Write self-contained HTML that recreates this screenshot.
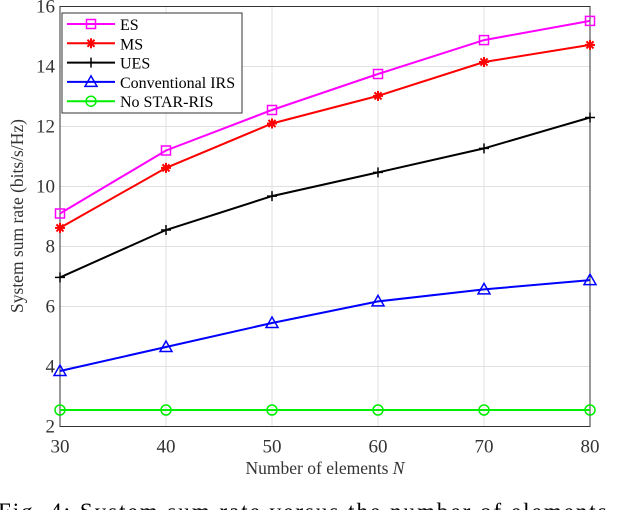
<!DOCTYPE html>
<html><head><meta charset="utf-8"><style>
body{margin:0;background:#fff;width:630px;height:510px;overflow:hidden}
svg{font-family:"Liberation Serif",serif}
</style></head><body>
<svg id="c" width="630" height="510"></svg>
<script>
const categories=[30,40,50,60,70,80];
const esVals=[9.1,11.2,12.55,13.75,14.88,15.52];
const msVals=[8.62,10.62,12.1,13.02,14.15,14.72];
const uesVals=[6.97,8.55,9.68,10.47,11.27,12.3];
const irsVals=[3.85,4.65,5.45,6.17,6.57,6.88];
const noVals=[2.55,2.55,2.55,2.55,2.55,2.55];
const yTicks=[2,4,6,8,10,12,14,16];
const seriesNames=["ES","MS","UES","Conventional IRS","No STAR-RIS"];
const svg=document.getElementById('c');const NS="http://www.w3.org/2000/svg";
const L=60,R=590,T=6.5,B=426.5;
const xs=v=>L+(v-30)/50*(R-L), ys=v=>B-(v-2)/14*(B-T);
function mk(t,a,p){const e=document.createElementNS(NS,t);for(const k in a)e.setAttribute(k,a[k]);(p||svg).appendChild(e);return e;}
categories.forEach(c=>{const g=mk('line',{x1:xs(c),x2:xs(c),y1:T,y2:B,stroke:'#e0e0e0','stroke-width':1});


const t=mk('text',{x:xs(c),y:B+26,'text-anchor':'middle','font-size':19,fill:'#333'});t.textContent=c;

});
yTicks.forEach(v=>{const g=mk('line',{x1:L,x2:R,y1:ys(v),y2:ys(v),stroke:'#e0e0e0','stroke-width':1});


const t=mk('text',{x:L-5,y:ys(v)+6,'text-anchor':'end','font-size':19,fill:'#333'});t.textContent=v;

});
const fr=mk('rect',{x:L,y:T,width:R-L,height:B-T,fill:'none',stroke:'#333','stroke-width':1});


function marker(type,x,y,col,g){
 if(type==='sq')mk('rect',{x:x-4.5,y:y-4.5,width:9,height:9,fill:'none',stroke:col,'stroke-width':1.5},g);
 else if(type==='star'){for(let a=0;a<4;a++){const an=a*Math.PI/4;mk('line',{x1:x-5*Math.cos(an),y1:y-5*Math.sin(an),x2:x+5*Math.cos(an),y2:y+5*Math.sin(an),stroke:col,'stroke-width':2},g);}}
 else if(type==='plus'){mk('line',{x1:x-5,x2:x+5,y1:y,y2:y,stroke:col,'stroke-width':1.5},g);mk('line',{x1:x,x2:x,y1:y-5,y2:y+5,stroke:col,'stroke-width':1.5},g);}
 else if(type==='tri')mk('polygon',{points:`${x},${y-6} ${x-6},${y+4.5} ${x+6},${y+4.5}`,fill:'none',stroke:col,'stroke-width':1.5},g);
 else mk('circle',{cx:x,cy:y,r:5,fill:'none',stroke:col,'stroke-width':1.5},g);
}
const series=[[esVals,'#ff00ff','sq','series-es'],[msVals,'#ff0000','star','series-ms'],[uesVals,'#000','plus','series-ues'],[irsVals,'#0000ff','tri','series-conventional-irs'],[noVals,'#00ee00','circ','series-no-star-ris']];
series.forEach(([vals,col,m,name])=>{const g=mk('g',{});


mk('polyline',{points:vals.map((v,i)=>xs(categories[i])+','+ys(v)).join(' '),fill:'none',stroke:col,'stroke-width':2},g);
vals.forEach((v,i)=>marker(m,xs(categories[i]),ys(v),col,g));});
const lg=mk('g',{});


mk('rect',{x:62,y:13,width:180,height:100,fill:'#fff',stroke:'#333','stroke-width':1},lg);
series.forEach(([vals,col,m],i)=>{const y=24+i*19.3;const e=mk('g',{},lg);


mk('line',{x1:67,x2:115,y1:y,y2:y,stroke:col,'stroke-width':2},e);marker(m,91,y,col,e);
const t=mk('text',{x:120,y:y+6,'font-size':16,fill:'#000'},e);t.textContent=seriesNames[i];});
const xl=mk('text',{x:325,y:474,'text-anchor':'middle','font-size':17.5,fill:'#333'});xl.innerHTML='Number of elements  <tspan font-style="italic">N</tspan>';


const yl=mk('text',{x:0,y:0,'text-anchor':'middle','font-size':17.5,fill:'#333',transform:'translate(23,216) rotate(-90)'});yl.textContent='System sum rate (bits/s/Hz)';


const cap=mk('text',{x:-2,y:519,'font-size':23,fill:'#000','letter-spacing':'2'});cap.textContent='Fig. 4: System sum rate versus the number of elements';


</script>
</body></html>
